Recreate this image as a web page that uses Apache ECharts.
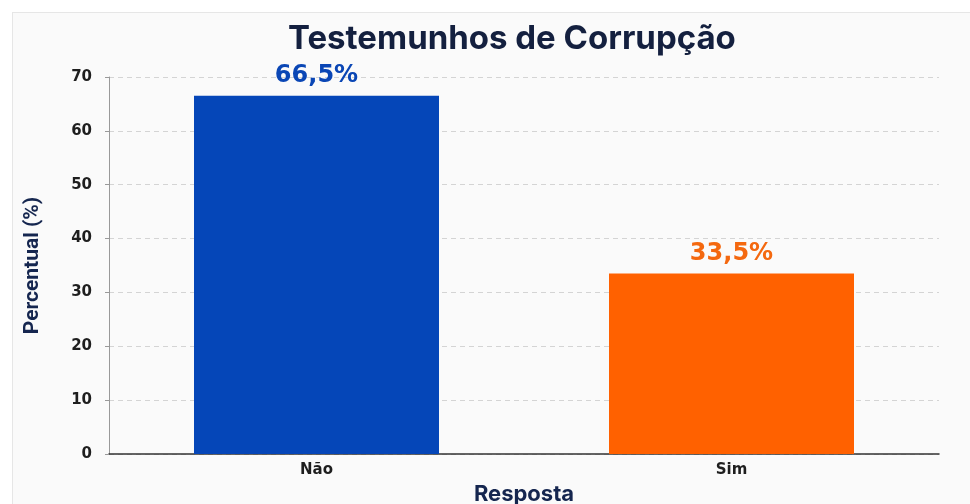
<!DOCTYPE html>
<html>
<head>
<meta charset="utf-8">
<script src="https://cdn.jsdelivr.net/npm/echarts@6/dist/echarts.min.js"></script>
<style>
  html, body { margin: 0; padding: 0; background: #ffffff; }
  #wrap { position: absolute; left: 12px; top: 12px; width: 958px; height: 492px;
          background: #fafafa; border-left: 1px solid #e6e6e6; border-top: 1px solid #e6e6e6; }
  #chart { position: absolute; left: -12px; top: -12px; width: 970px; height: 504px; }
</style>
</head>
<body>
<div id="wrap"><div id="chart"></div></div>
<script>
// dados
var categorias = ["Não", "Sim"];
var percentuais = [66.5, 33.5];
var rotulos = ["66,5%", "33,5%"];
var cores = ["#0546b8", "#ff6100"];
var coresRotulo = ["#0a46b5", "#f4680f"];

var chartDom = document.getElementById("chart");
var myChart = echarts.init(chartDom);

var option = {
  backgroundColor: "transparent",
  title: {
    text: "Testemunhos de Corrupção",
    left: 282,
    top: 17,
    textStyle: {
      fontFamily: "Inter",
      fontWeight: "bold",
      fontSize: 33,
      color: "#14203f",
    },
  },
  grid: {
    left: 108,
    right: 32,
    top: 76,
    bottom: 51,
    outerBoundsMode: "none",
  },
  xAxis: {
    type: "category",
    data: categorias,
    name: "Resposta",
    nameLocation: "middle",
    nameGap: 28,
    nameTextStyle: {
      fontFamily: "Inter",
      fontWeight: "bold",
      fontSize: 22,
      color: "#15264f",
    },
    axisLine: { lineStyle: { color: "#333", width: 1.5 } },
    axisTick: { show: false },
    axisLabel: {
      margin: 9,
      fontFamily: "DejaVu Sans",
      fontWeight: "bold",
      fontSize: 15,
      color: "#1e1e1e",
    },
  },
  yAxis: {
    type: "value",
    min: 0,
    max: 70,
    interval: 10,
    name: "Percentual (%)",
    nameLocation: "middle",
    nameGap: 66,
    nameTextStyle: {
      fontFamily: "Roboto",
      fontWeight: "bold",
      fontSize: 21,
      color: "#15264f",
    },
    axisLine: { show: true, lineStyle: { color: "#999", width: 1 } },
    axisTick: { show: true, length: 4, lineStyle: { color: "#999" } },
    axisLabel: {
      margin: 17,
      fontFamily: "DejaVu Sans",
      fontWeight: "bold",
      fontSize: 15,
      color: "#1e1e1e",
    },
    splitLine: {
      show: true,
      lineStyle: { color: "#d4d4d4", type: [5, 4], width: 1 },
    },
  },
  series: [
    {
      type: "bar",
      barWidth: 245,
      data: percentuais.map(function (v, i) {
        return {
          value: v,
          itemStyle: { color: cores[i] },
          label: { color: coresRotulo[i] },
        };
      }),
      label: {
        show: true,
        position: "top",
        distance: 8,
        fontFamily: "DejaVu Sans",
        fontWeight: "bold",
        fontSize: 24,
        formatter: function (p) {
          return rotulos[p.dataIndex];
        },
      },
    },
  ],
};

myChart.setOption(option);
</script>
</body>
</html>
